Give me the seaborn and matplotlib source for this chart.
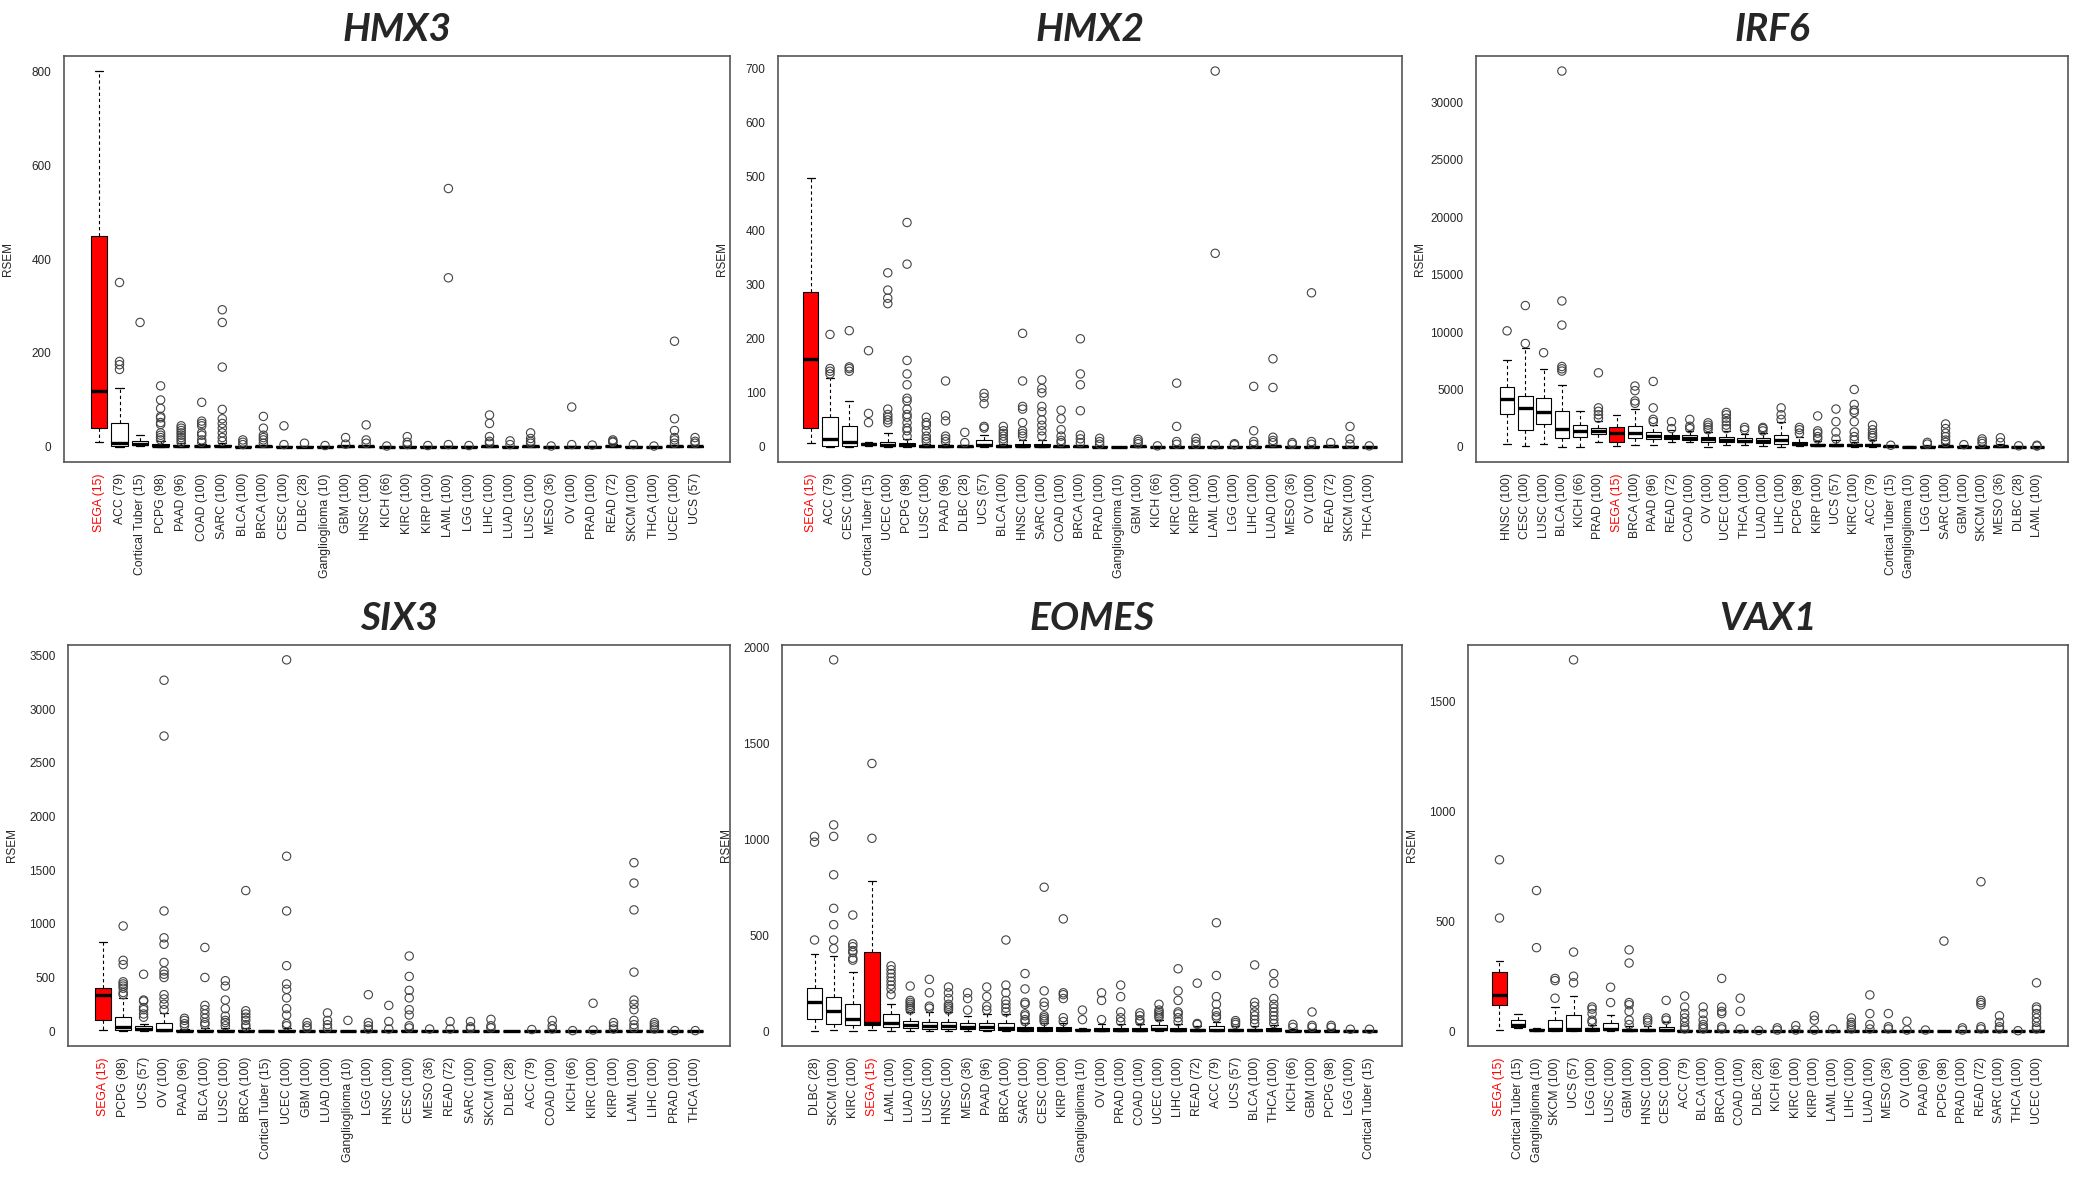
import pandas as pd
import matplotlib
matplotlib.use("Agg")
import matplotlib.pyplot as plt
import seaborn as sns

# boxes are [whisker low, q1, median, q3, whisker high], outliers listed separately

HMX3_CATS = ["SEGA (15)", "ACC (79)", "Cortical Tuber (15)", "PCPG (98)", "PAAD (96)", "COAD (100)",
             "SARC (100)", "BLCA (100)", "BRCA (100)", "CESC (100)", "DLBC (28)", "Ganglioglioma (10)",
             "GBM (100)", "HNSC (100)", "KICH (66)", "KIRC (100)", "KIRP (100)", "LAML (100)", "LGG (100)",
             "LIHC (100)", "LUAD (100)", "LUSC (100)", "MESO (36)", "OV (100)", "PRAD (100)", "READ (72)",
             "SKCM (100)", "THCA (100)", "UCEC (100)", "UCS (57)"]
HMX3_BOX = [[10, 40, 120, 450, 800], [0, 2, 8, 52, 125], [2, 4, 6, 12, 25], [0, 1, 3, 6, 12], [0, 1, 2, 4, 8],
            [0, 1, 2, 3, 6], [0, 1, 2, 4, 8], [0, 0, 0.5, 1, 2], [0, 0, 1, 2, 4], [0, 0, 0.5, 1, 2],
            [0, 0, 0.5, 1, 2], [0, 0, 0, 1, 2], [0, 0, 1, 2, 3], [0, 0, 1, 2, 3], [0, 0, 0, 0.5, 1],
            [0, 0, 0.5, 1, 2], [0, 0, 0.5, 1, 2], [0, 0, 0.5, 1, 2], [0, 0, 0.5, 1, 2], [0, 0, 1, 2, 4],
            [0, 0, 0.5, 1, 2], [0, 0, 1, 2, 4], [0, 0, 0, 0.5, 1], [0, 0, 0.5, 1, 2], [0, 0, 0.5, 1, 2],
            [0, 1, 2, 3, 6], [0, 0, 0.5, 1, 2], [0, 0, 0, 0.5, 1], [0, 0, 1, 2, 4], [0, 0, 1, 2, 4]]
HMX3_OUT = [[], [165, 175, 182, 350], [265], [15, 20, 25, 30, 48, 52, 62, 65, 82, 100, 130],
            [10, 15, 20, 25, 30, 35, 40, 45], [10, 15, 25, 30, 45, 50, 55, 95],
            [12, 20, 30, 40, 50, 60, 80, 170, 265, 292], [5, 10, 15], [8, 15, 20, 25, 40, 65], [5, 45],
            [8], [3], [6, 20], [8, 15, 47], [2], [5, 10, 22], [3], [5, 360, 550], [3], [8, 12, 22, 50, 68],
            [5, 13], [8, 12, 18, 30], [2], [5, 85], [4], [10, 12, 15], [5], [2], [8, 15, 20, 35, 60, 225],
            [8, 12, 20]]
HMX3_YTICKS = [0, 200, 400, 600, 800]

HMX2_CATS = ["SEGA (15)", "ACC (79)", "CESC (100)", "Cortical Tuber (15)", "UCEC (100)", "PCPG (98)",
             "LUSC (100)", "PAAD (96)", "DLBC (28)", "UCS (57)", "BLCA (100)", "HNSC (100)", "SARC (100)",
             "COAD (100)", "BRCA (100)", "PRAD (100)", "Ganglioglioma (10)", "GBM (100)", "KICH (66)",
             "KIRC (100)", "KIRP (100)", "LAML (100)", "LGG (100)", "LIHC (100)", "LUAD (100)", "MESO (36)",
             "OV (100)", "READ (72)", "SKCM (100)", "THCA (100)"]
HMX2_BOX = [[8, 35, 163, 287, 497], [0, 2, 15, 55, 128], [0, 2, 10, 38, 85], [2, 3, 5, 8, 10],
            [0, 1, 3, 10, 25], [0, 1, 3, 7, 15], [0, 0, 1, 3, 6], [0, 0, 1, 3, 6], [0, 0, 1, 2, 4],
            [0, 1, 3, 12, 22], [0, 0, 1, 3, 6], [0, 1, 2, 6, 12], [0, 1, 2, 6, 12], [0, 0, 1, 2, 4],
            [0, 0, 1, 2, 4], [0, 0, 0.5, 1, 2], [0, 0, 0, 0, 0], [0, 0, 1, 2, 3], [0, 0, 0, 0.5, 1],
            [0, 0, 0.5, 1, 2], [0, 0, 0.5, 1, 2], [0, 0, 0.5, 1, 2], [0, 0, 0.5, 1, 2], [0, 0, 0.5, 1, 2],
            [0, 0, 1, 2, 4], [0, 0, 0.5, 1, 2], [0, 0, 0.5, 1, 2], [0, 0, 1, 2, 4], [0, 0, 0.5, 1, 2],
            [0, 0, 0, 0.5, 1]]
HMX2_OUT = [[], [135, 140, 145, 208], [140, 145, 148, 215], [45, 62, 178],
            [45, 50, 55, 60, 70, 265, 275, 290, 322],
            [20, 30, 35, 45, 55, 60, 70, 85, 90, 115, 135, 160, 338, 415],
            [10, 15, 20, 30, 40, 45, 55], [10, 15, 20, 48, 58, 122], [8, 27], [35, 38, 80, 92, 99],
            [10, 15, 20, 25, 30, 38], [20, 25, 30, 45, 70, 75, 122, 210],
            [20, 30, 40, 50, 65, 75, 100, 108, 124], [8, 12, 20, 32, 52, 68],
            [8, 15, 22, 67, 115, 135, 200], [5, 10, 16], [], [6, 10, 14], [2], [5, 10, 38, 118],
            [5, 10, 16], [4, 358, 695], [4, 6], [5, 10, 30, 112], [8, 12, 18, 110, 163], [5, 8],
            [5, 10, 285], [8], [5, 15, 38], [2]]
HMX2_YTICKS = [0, 100, 200, 300, 400, 500, 600, 700]

IRF6_CATS = ["HNSC (100)", "CESC (100)", "LUSC (100)", "BLCA (100)", "KICH (66)", "PRAD (100)", "SEGA (15)",
             "BRCA (100)", "PAAD (96)", "READ (72)", "COAD (100)", "OV (100)", "UCEC (100)", "THCA (100)",
             "LUAD (100)", "LIHC (100)", "PCPG (98)", "KIRP (100)", "UCS (57)", "KIRC (100)", "ACC (79)",
             "Cortical Tuber (15)", "Ganglioglioma (10)", "LGG (100)", "SARC (100)", "GBM (100)",
             "SKCM (100)", "MESO (36)", "DLBC (28)", "LAML (100)"]
IRF6_BOX = [[300, 2850, 4150, 5200, 7600], [100, 1500, 3350, 4400, 8650], [300, 2000, 3050, 4250, 6750],
            [0, 800, 1600, 3150, 5400], [0, 900, 1350, 1900, 3100], [400, 1100, 1350, 1650, 2300],
            [100, 450, 1250, 1700, 2750], [150, 800, 1200, 1850, 3300], [150, 650, 950, 1300, 1900],
            [400, 650, 850, 1050, 1500], [400, 600, 800, 1000, 1400], [0, 450, 650, 850, 1300],
            [150, 400, 600, 850, 1400], [200, 400, 550, 750, 1100], [100, 350, 550, 750, 1200],
            [0, 250, 600, 1050, 2200], [100, 150, 250, 400, 900], [50, 150, 200, 300, 500],
            [50, 100, 150, 300, 600], [30, 100, 150, 250, 400], [20, 80, 150, 300, 600],
            [20, 40, 60, 80, 120], [10, 20, 30, 40, 60], [0, 20, 40, 80, 150], [0, 30, 60, 120, 250],
            [0, 20, 40, 80, 150], [0, 20, 40, 100, 200], [0, 30, 60, 120, 250], [0, 10, 20, 40, 80],
            [0, 5, 10, 20, 40]]
IRF6_OUT = [[10100], [9000, 12300], [8200], [6600, 6800, 7000, 10600, 12700, 32700], [],
            [2500, 2800, 3100, 3400, 6450], [], [3800, 4000, 4900, 5300], [2200, 2400, 3400, 5700],
            [1600, 2200], [1600, 1800, 2400], [1500, 1700, 1900, 2100], [1600, 1900, 2200, 2500, 2800, 3000],
            [1500, 1700], [1400, 1600, 1700], [2400, 2800, 3400], [1200, 1500, 1700],
            [700, 900, 1200, 1400, 2700], [700, 1300, 2200, 3300],
            [600, 900, 1300, 2200, 3000, 3200, 3700, 5000], [800, 1000, 1200, 1500, 1900], [150], [],
            [250, 400], [400, 600, 900, 1200, 1600, 2000], [200], [300, 500, 700], [400, 800], [100],
            [80, 150]]
IRF6_YTICKS = [0, 5000, 10000, 15000, 20000, 25000, 30000]

SIX3_CATS = ["SEGA (15)", "PCPG (98)", "UCS (57)", "OV (100)", "PAAD (96)", "BLCA (100)", "LUSC (100)",
             "BRCA (100)", "Cortical Tuber (15)", "UCEC (100)", "GBM (100)", "LUAD (100)", "Ganglioglioma (10)",
             "LGG (100)", "HNSC (100)", "CESC (100)", "MESO (36)", "READ (72)", "SARC (100)", "SKCM (100)",
             "DLBC (28)", "ACC (79)", "COAD (100)", "KICH (66)", "KIRC (100)", "KIRP (100)", "LAML (100)",
             "LIHC (100)", "PRAD (100)", "THCA (100)"]
SIX3_BOX = [[10, 100, 340, 405, 830], [0, 15, 40, 130, 310], [0, 10, 20, 50, 70], [0, 5, 15, 80, 170],
            [0, 2, 5, 10, 20], [0, 2, 5, 15, 30], [0, 2, 5, 15, 30], [0, 2, 5, 12, 25], [0, 0, 2, 5, 10],
            [0, 2, 5, 15, 30], [0, 1, 2, 5, 10], [0, 1, 3, 8, 15], [0, 0, 1, 2, 3], [0, 1, 2, 4, 8],
            [0, 1, 2, 4, 8], [0, 1, 3, 8, 15], [0, 0, 1, 2, 4], [0, 1, 2, 4, 8], [0, 1, 3, 6, 12],
            [0, 1, 3, 6, 12], [0, 0, 1, 2, 3], [0, 0, 1, 3, 6], [0, 1, 2, 4, 8], [0, 0, 1, 2, 3],
            [0, 0, 1, 2, 4], [0, 1, 2, 4, 8], [0, 1, 3, 8, 15], [0, 1, 2, 4, 8], [0, 0, 1, 2, 3],
            [0, 0, 1, 2, 3]]
SIX3_OUT = [[], [340, 360, 400, 420, 440, 460, 620, 660, 980], [130, 160, 200, 220, 280, 290, 530],
            [200, 250, 300, 340, 500, 530, 560, 640, 810, 870, 1120, 2750, 3270], [50, 70, 100, 120],
            [60, 80, 120, 160, 200, 240, 500, 780], [50, 80, 100, 140, 210, 290, 420, 470],
            [40, 60, 100, 130, 160, 190, 1310], [],
            [50, 70, 150, 210, 310, 390, 440, 610, 1120, 1630, 3460], [30, 50, 80], [30, 60, 100, 170],
            [100], [20, 50, 80, 340], [20, 90, 240], [30, 50, 150, 200, 310, 380, 510, 700], [20],
            [20, 90], [25, 40, 90], [30, 50, 110], [], [15], [20, 50, 100], [5], [10, 260], [20, 50, 80],
            [30, 60, 100, 200, 250, 290, 550, 1130, 1380, 1570], [20, 40, 60, 80], [5], [5]]
SIX3_YTICKS = [0, 500, 1000, 1500, 2000, 2500, 3000, 3500]

EOMES_CATS = ["DLBC (28)", "SKCM (100)", "KIRC (100)", "SEGA (15)", "LAML (100)", "LUAD (100)", "LUSC (100)",
              "HNSC (100)", "MESO (36)", "PAAD (96)", "BRCA (100)", "SARC (100)", "CESC (100)", "KIRP (100)",
              "Ganglioglioma (10)", "OV (100)", "PRAD (100)", "COAD (100)", "UCEC (100)", "LIHC (100)",
              "READ (72)", "ACC (79)", "UCS (57)", "BLCA (100)", "THCA (100)", "KICH (66)", "GBM (100)",
              "PCPG (98)", "LGG (100)", "Cortical Tuber (15)"]
EOMES_BOX = [[0, 65, 150, 225, 400], [5, 35, 105, 180, 390], [0, 30, 65, 140, 310], [5, 30, 45, 410, 780],
             [0, 20, 45, 90, 140], [0, 15, 30, 55, 100], [0, 10, 28, 50, 100], [0, 10, 25, 50, 100],
             [0, 10, 22, 40, 80], [0, 8, 22, 45, 90], [0, 5, 18, 45, 90], [0, 3, 10, 20, 40],
             [0, 3, 10, 20, 40], [0, 3, 10, 20, 40], [3, 5, 8, 12, 15], [0, 3, 8, 18, 35], [0, 3, 8, 18, 35],
             [0, 3, 8, 18, 35], [0, 5, 12, 30, 60], [0, 3, 8, 18, 35], [0, 2, 5, 12, 25], [0, 3, 8, 25, 50],
             [0, 2, 5, 12, 25], [0, 2, 5, 12, 25], [0, 3, 8, 15, 30], [0, 1, 3, 6, 12], [0, 1, 3, 6, 12],
             [0, 1, 3, 6, 12], [0, 0, 1, 3, 6], [0, 1, 2, 3, 5]]
EOMES_OUT = [[475, 985, 1015], [430, 475, 555, 640, 815, 1015, 1075, 1935],
             [370, 380, 410, 420, 440, 455, 605], [1005, 1395], [190, 220, 240, 260, 280, 300, 320, 340],
             [110, 120, 130, 140, 150, 160, 235], [120, 130, 200, 270], [110, 120, 130, 140, 170, 200, 230],
             [110, 170, 200], [110, 130, 180, 230], [100, 120, 140, 160, 200, 240, 475],
             [50, 60, 80, 90, 140, 150, 220, 300], [50, 60, 70, 80, 130, 150, 210, 750],
             [50, 70, 170, 190, 200, 585], [60, 110], [60, 160, 200], [50, 70, 100, 180, 240],
             [50, 60, 80, 95], [70, 80, 90, 100, 110, 140], [50, 70, 90, 100, 160, 210, 325], [35, 40, 250],
             [70, 80, 100, 140, 180, 290, 565], [35, 45, 55], [40, 60, 80, 100, 130, 150, 345],
             [40, 60, 80, 100, 120, 140, 170, 250, 300], [20, 35], [20, 30, 100], [20, 30], [10], [10]]
EOMES_YTICKS = [0, 500, 1000, 1500, 2000]

VAX1_CATS = ["SEGA (15)", "Cortical Tuber (15)", "Ganglioglioma (10)", "SKCM (100)", "UCS (57)", "LGG (100)",
             "LUSC (100)", "GBM (100)", "HNSC (100)", "CESC (100)", "ACC (79)", "BLCA (100)", "BRCA (100)",
             "COAD (100)", "DLBC (28)", "KICH (66)", "KIRC (100)", "KIRP (100)", "LAML (100)", "LIHC (100)",
             "LUAD (100)", "MESO (36)", "OV (100)", "PAAD (96)", "PCPG (98)", "PRAD (100)", "READ (72)",
             "SARC (100)", "THCA (100)", "UCEC (100)"]
VAX1_BOX = [[5, 120, 165, 270, 320], [15, 20, 30, 50, 80], [0, 3, 5, 10, 15], [0, 2, 10, 50, 110],
            [0, 2, 10, 75, 160], [0, 2, 8, 15, 30], [0, 3, 10, 35, 75], [0, 2, 5, 12, 25], [0, 2, 5, 12, 25],
            [0, 2, 5, 18, 40], [0, 0, 1, 3, 6], [0, 0, 1, 3, 6], [0, 0, 1, 2, 4], [0, 0, 1, 2, 4],
            [0, 0, 0, 1, 2], [0, 0, 0, 1, 2], [0, 0, 0, 1, 2], [0, 0, 0, 1, 2], [0, 0, 0, 1, 2],
            [0, 0, 1, 2, 4], [0, 0, 1, 2, 4], [0, 0, 1, 2, 4], [0, 0, 0, 1, 2], [0, 0, 0, 1, 2],
            [0, 0, 0, 1, 2], [0, 0, 0, 1, 2], [0, 0, 1, 2, 4], [0, 0, 1, 2, 4], [0, 0, 0, 0.5, 1],
            [0, 0, 1, 3, 6]]
VAX1_OUT = [[515, 780], [], [380, 640], [150, 230, 240], [220, 250, 360, 1690], [40, 50, 80, 100, 110],
            [130, 200], [30, 50, 90, 120, 130, 310, 370], [40, 50, 60], [50, 60, 140],
            [10, 20, 40, 60, 80, 110, 160], [10, 20, 30, 50, 80, 110], [10, 20, 80, 90, 110, 240],
            [10, 90, 150], [3], [5, 15], [5, 25], [5, 50, 70], [10], [10, 20, 30, 40, 60],
            [10, 30, 80, 165], [10, 20, 80], [5, 45], [5], [410], [5, 15], [10, 20, 120, 130, 140, 680],
            [10, 20, 40, 70], [2], [10, 20, 40, 60, 80, 100, 110, 220]]
VAX1_YTICKS = [0, 500, 1000, 1500]

PANELS = [
    ("HMX3", HMX3_CATS, HMX3_BOX, HMX3_OUT, HMX3_YTICKS),
    ("HMX2", HMX2_CATS, HMX2_BOX, HMX2_OUT, HMX2_YTICKS),
    ("IRF6", IRF6_CATS, IRF6_BOX, IRF6_OUT, IRF6_YTICKS),
    ("SIX3", SIX3_CATS, SIX3_BOX, SIX3_OUT, SIX3_YTICKS),
    ("EOMES", EOMES_CATS, EOMES_BOX, EOMES_OUT, EOMES_YTICKS),
    ("VAX1", VAX1_CATS, VAX1_BOX, VAX1_OUT, VAX1_YTICKS),
]

# axes frames in pixels: (left, right, top, bottom)
FRAMES = [(64, 730, 56, 462), (778, 1402, 56, 462), (1476, 2068, 56, 462),
          (68, 730, 645, 1046), (782, 1402, 645, 1046), (1468, 2068, 645, 1046)]
W, H = 2100, 1186

sns.set_style("white")
plt.rcParams["font.family"] = ["Liberation Sans", "DejaVu Sans"]


def to_long(cats, rows):
    recs = [(c, v) for c, r in zip(cats, rows) for v in r]
    return pd.DataFrame(recs, columns=["cat", "val"])


fig = plt.figure(figsize=(W / 100, H / 100), dpi=100)

for (gene, cats, box, out, yticks), (l, r, t, b) in zip(PANELS, FRAMES):
    assert len(cats) == len(box) == len(out)
    ax = fig.add_axes([l / W, 1 - b / H, (r - l) / W, (b - t) / H])
    box_df = to_long(cats, box)
    out_df = to_long(cats, out)
    pal = {c: ("#ff0000" if c.startswith("SEGA") else "white") for c in cats}

    sns.boxplot(data=box_df, x="cat", y="val", hue="cat", order=cats, hue_order=cats,
                palette=pal, legend=False, whis=(0, 100), showfliers=False, width=0.8,
                saturation=1, linecolor="black", linewidth=0.8,
                medianprops=dict(linewidth=2.4, color="black"),
                whiskerprops=dict(linestyle=(0, (3, 2.5)), linewidth=0.8),
                capprops=dict(linewidth=0.9), ax=ax)
    sns.stripplot(data=out_df, x="cat", y="val", order=cats, jitter=False, size=6,
                  color="#444444", facecolor="none", edgecolor="#444444", linewidth=0.8,
                  zorder=4, ax=ax)

    vals = [v for row in box + out for v in row]
    lo, hi = min(vals), max(vals)
    pad = 0.04 * (hi - lo)
    ax.set_ylim(lo - pad, hi + pad)
    n = len(cats)
    ax.set_xlim(-0.5 - 0.04 * n, n - 0.5 + 0.04 * n)
    ax.set_yticks(yticks)
    ax.set_yticklabels([str(v) for v in yticks])

    ax.tick_params(axis="x", direction="out", length=5, width=0.8, color="#333333",
                   labelsize=8.8, pad=3, rotation=90)
    ax.tick_params(axis="y", direction="out", length=5, width=0.8, color="#333333",
                   labelsize=8.5, pad=4)
    for lbl in ax.get_xticklabels():
        if lbl.get_text().startswith("SEGA"):
            lbl.set_color("#ff0000")

    for sp in ax.spines.values():
        sp.set_visible(True)
        sp.set_color("#555555")
        sp.set_linewidth(1.2)

    ax.set_xlabel("")
    ax.set_ylabel("RSEM", fontsize=8.5)
    ax.yaxis.set_label_coords(-50 / (r - l), 0.5)
    ax.set_title(gene, fontsize=28, fontweight="bold", fontstyle="italic",
                 family=["Lato", "DejaVu Sans"], pad=11)

fig.savefig("out.png", dpi=100)
